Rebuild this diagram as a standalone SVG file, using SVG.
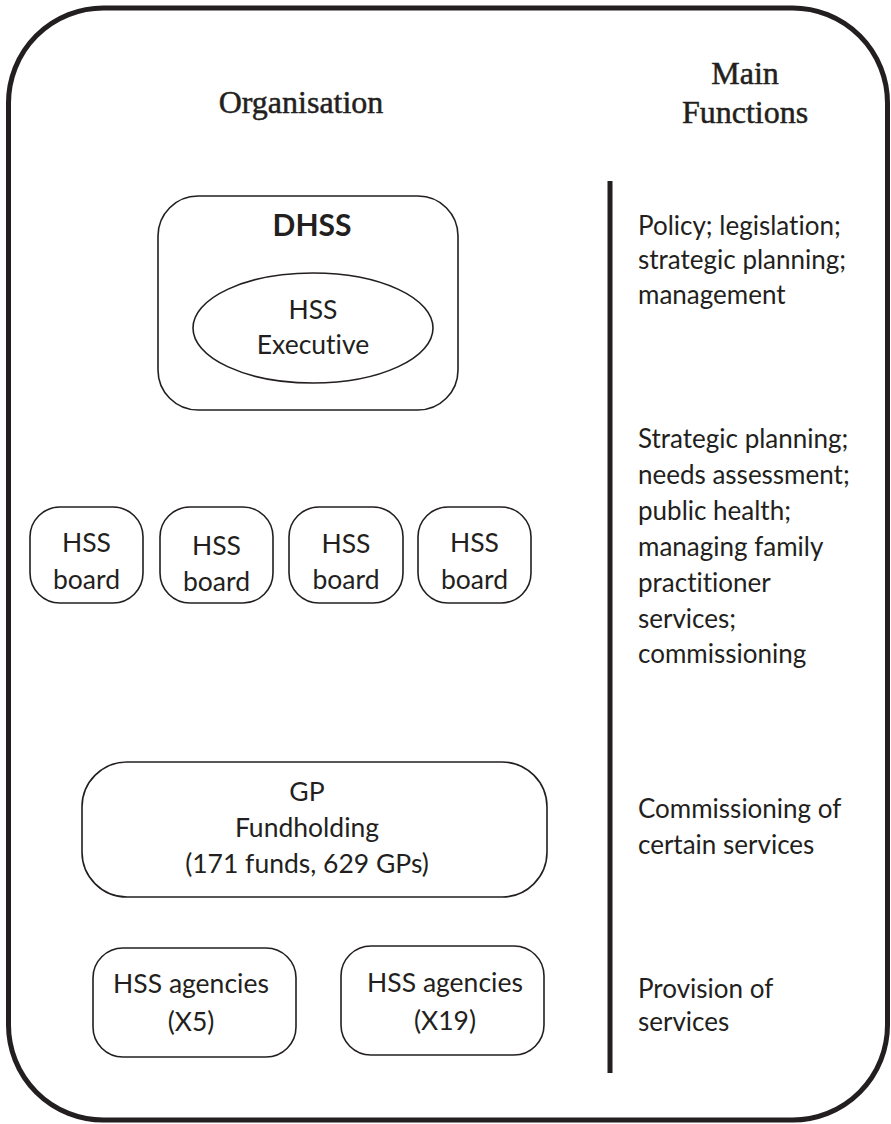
<svg xmlns="http://www.w3.org/2000/svg" width="891" height="1124" viewBox="0 0 891 1124">
<style>
.frame{fill:none;stroke:#231f20;stroke-width:5}
.box{fill:#fff;stroke:#231f20;stroke-width:1.6}
.hd{font-family:"Liberation Serif",serif;font-size:32px;fill:#231f20;stroke:#231f20;stroke-width:0.5;text-anchor:middle}
.t{font-family:Lato,"Open Sans",sans-serif;font-size:26.5px;fill:#231f20;text-anchor:middle;font-variant-ligatures:none}
.f{font-family:Lato,"Open Sans",sans-serif;font-size:26px;fill:#231f20;font-variant-ligatures:none}
.b{font-family:Lato,"Open Sans",sans-serif;font-size:30px;font-weight:bold;fill:#231f20;text-anchor:middle}
</style>
<rect class="frame" x="8.5" y="8" width="879" height="1112" rx="95" ry="95"/>
<g id="headers">
<text class="hd" x="301" y="113">Organisation</text>
<text class="hd" x="745" y="84">Main</text>
<text class="hd" x="745" y="123">Functions</text>
</g>
<g id="connectors">
<line x1="610" y1="181" x2="610" y2="1073" stroke="#231f20" stroke-width="5"/>
</g>
<g id="dhss">
<rect class="box" x="158" y="196" width="300" height="214" rx="40" ry="40"/>
<text class="b" x="312" y="236">DHSS</text>
</g>
<g id="hss-executive">
<ellipse class="box" cx="313" cy="328" rx="120" ry="55"/>
<text class="t" x="313" y="319">HSS</text>
<text class="t" x="313" y="354">Executive</text>
</g>
<g id="board1">
<rect class="box" x="30" y="507" width="113" height="96" rx="30" ry="30"/>
<text class="t" x="86.5" y="552">HSS</text>
<text class="t" x="86.5" y="589">board</text>
</g>
<g id="board2">
<rect class="box" x="160" y="507" width="113" height="96" rx="30" ry="30"/>
<text class="t" x="216.5" y="555">HSS</text>
<text class="t" x="216.5" y="591">board</text>
</g>
<g id="board3">
<rect class="box" x="289" y="507" width="114" height="96" rx="30" ry="30"/>
<text class="t" x="346" y="553">HSS</text>
<text class="t" x="346" y="589">board</text>
</g>
<g id="board4">
<rect class="box" x="418" y="507" width="113" height="96" rx="30" ry="30"/>
<text class="t" x="474.5" y="552">HSS</text>
<text class="t" x="474.5" y="589">board</text>
</g>
<g id="gp">
<rect class="box" x="82" y="762" width="465" height="135" rx="45" ry="45"/>
<text class="t" x="307" y="801">GP</text>
<text class="t" x="307" y="837">Fundholding</text>
<text class="t" x="307" y="873">(171 funds, 629 GPs)</text>
</g>
<g id="agencies1">
<rect class="box" x="93" y="948" width="203" height="109" rx="30" ry="30"/>
<text class="t" x="191" y="993">HSS agencies</text>
<text class="t" x="191" y="1031">(X5)</text>
</g>
<g id="agencies2">
<rect class="box" x="341" y="946" width="203" height="109" rx="30" ry="30"/>
<text class="t" x="445" y="992">HSS agencies</text>
<text class="t" x="445" y="1030">(X19)</text>
</g>
<g id="functions">
<text class="f" x="638" y="235">Policy; legislation;</text>
<text class="f" x="638" y="269">strategic planning;</text>
<text class="f" x="638" y="304">management</text>
<text class="f" x="638" y="448">Strategic planning;</text>
<text class="f" x="638" y="484">needs assessment;</text>
<text class="f" x="638" y="520">public health;</text>
<text class="f" x="638" y="556">managing family</text>
<text class="f" x="638" y="592">practitioner</text>
<text class="f" x="638" y="628">services;</text>
<text class="f" x="638" y="663">commissioning</text>
<text class="f" x="638" y="818">Commissioning of</text>
<text class="f" x="638" y="854">certain services</text>
<text class="f" x="638" y="998">Provision of</text>
<text class="f" x="638" y="1031">services</text>
</g>
</svg>
